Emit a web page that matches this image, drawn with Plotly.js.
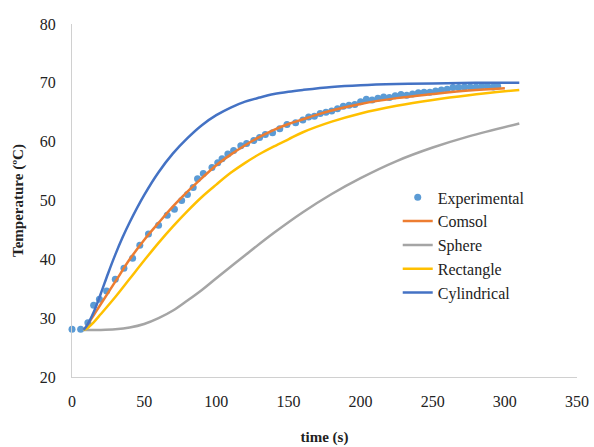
<!DOCTYPE html>
<html><head><meta charset="utf-8">
<script src="https://cdn.plot.ly/plotly-3.0.1.min.js"></script>
<style>body{margin:0;background:#fff}#chart{width:594px;height:447px}</style>
</head><body><div id="chart"></div>
<script>
// Experimental data
const expTime = [0,6,11,15,19,24,30,36,42,47,53,60,66,71,76,80,84,87,91,97,101,104,108,112,117,121,126,130,134,139,144,149,155,160,164,168,172,176,180,184,188,192,196,200,204,208,212,216,220,224,228,232,236,240,244,248,252,256,260,264,268,272,276,280,284,288,292,295];
const expTemp = [28.1,28.1,29.2,32.2,33.2,34.6,36.6,38.5,40.2,42.4,44.3,45.8,47.5,48.5,50.0,51.0,52.2,53.7,54.6,55.6,56.4,57.1,57.9,58.5,59.3,59.7,60.2,60.7,61.2,61.5,62.2,62.9,63.2,63.7,64.2,64.3,64.8,65.0,65.2,65.6,66.0,66.2,66.3,66.8,67.2,67.1,67.4,67.6,67.5,67.8,68.0,67.9,68.1,68.3,68.4,68.4,68.6,68.8,68.9,69.2,69.2,69.3,69.3,69.3,69.4,69.4,69.3,69.4];

// Comsol
const comsolTime = [8,10,15,20,30,40,50,60,70,80,90,100,110,120,130,140,150,160,170,180,200,225,250,275,300];
const comsolTemp = [28,28.6,30.5,32.4,36.2,40,43.3,46.2,49,51.5,53.8,56,57.8,59.4,60.8,62,63,63.8,64.6,65.3,66.4,67.4,68.1,68.7,69.1];

// Sphere
const sphereTime = [8,20,30,40,50,60,70,80,90,100,120,140,160,180,200,225,250,275,310];
const sphereTemp = [28,28,28.1,28.4,29,30,31.3,33,34.8,36.8,40.7,44.5,48,51.1,53.8,56.7,59,60.9,63.1];

// Rectangle
const rectTime = [8,10,15,20,30,40,50,60,70,80,90,100,110,120,130,140,150,160,180,200,225,250,275,310];
const rectTemp = [28,28.2,29.3,30.7,33.6,36.7,39.8,42.8,45.6,48.2,50.6,52.7,54.7,56.4,57.9,59.2,60.4,61.6,63.4,64.8,66.1,67.1,67.9,68.8];

// Cylindrical
const cylTime = [8,10,15,20,25,30,35,40,50,60,70,80,90,100,110,120,130,140,150,160,180,200,225,250,280,310];
const cylTemp = [28,28.6,31,34.2,37.6,40.8,43.7,46.3,50.9,54.8,58,60.6,62.8,64.5,65.8,66.8,67.5,68.1,68.5,68.8,69.3,69.6,69.8,69.9,70,70];

const xTicks = [0,50,100,150,200,250,300,350];
const yTicks = [20,30,40,50,60,70,80];

const serif = "'Liberation Serif', 'Times New Roman', Times, serif";
const traces = [
  {x: expTime, y: expTemp, name: 'Experimental', mode: 'markers', type: 'scatter', cliponaxis: false,
   marker: {color: '#5B9BD5', size: 7}},
  {x: comsolTime, y: comsolTemp, name: 'Comsol', mode: 'lines', type: 'scatter',
   line: {color: '#ED7D31', width: 2.5, shape: 'spline'}},
  {x: sphereTime, y: sphereTemp, name: 'Sphere', mode: 'lines', type: 'scatter',
   line: {color: '#A5A5A5', width: 2.5, shape: 'spline'}},
  {x: rectTime, y: rectTemp, name: 'Rectangle', mode: 'lines', type: 'scatter',
   line: {color: '#FFC000', width: 2.5, shape: 'spline'}},
  {x: cylTime, y: cylTemp, name: 'Cylindrical', mode: 'lines', type: 'scatter',
   line: {color: '#4472C4', width: 2.5, shape: 'spline'}}
];

const layout = {
  width: 594, height: 447,
  margin: {l: 72, r: 17, t: 24, b: 70},
  paper_bgcolor: '#ffffff', plot_bgcolor: '#ffffff',
  font: {family: serif, color: '#222', size: 16},
  showlegend: true,
  legend: {x: 0.645, y: 0.557, xanchor: 'left', yanchor: 'top', tracegroupgap: 0,
           font: {family: serif, size: 16, color: '#222'}, bgcolor: 'rgba(0,0,0,0)'},
  xaxis: {range: [0, 350], tickvals: xTicks, ticktext: xTicks.map(String),
          showgrid: false, zeroline: false, showline: true, linecolor: '#d0d0d0', linewidth: 1,
          ticks: '', ticklabelstandoff: 10, tickfont: {family: serif, size: 16, color: '#222'},
          title: {text: '<b>time (s)</b>', font: {family: serif, size: 15, color: '#222'}, standoff: 22}},
  yaxis: {range: [20, 80], tickvals: yTicks, ticktext: yTicks.map(String),
          showgrid: false, zeroline: false, showline: true, linecolor: '#d0d0d0', linewidth: 1,
          ticks: '', ticklabelstandoff: 12, tickfont: {family: serif, size: 16, color: '#222'},
          title: {text: '<b>Temperature (ºC)</b>', font: {family: serif, size: 15, color: '#222'}, standoff: 12}}
};

Plotly.newPlot('chart', traces, layout, {displayModeBar: false, staticPlot: true});
</script></body></html>
